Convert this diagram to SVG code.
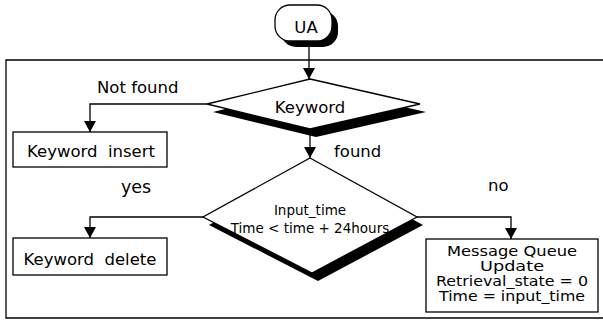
<svg xmlns="http://www.w3.org/2000/svg" width="603" height="320" viewBox="0 0 603 320">
<defs>
<style>
text{font-family:"DejaVu Sans","Liberation Sans",sans-serif;fill:#000}
.lbl{font-size:16.5px}
.box{fill:#fff;stroke:#000;stroke-width:1.3}
.sh{fill:#000}
.ln{fill:none;stroke:#000;stroke-width:1.3}
.c{text-anchor:middle}
.mq{font-size:14px}
</style>
<marker id="ah" markerUnits="userSpaceOnUse" markerWidth="11" markerHeight="12" refX="11" refY="6" orient="auto" viewBox="0 0 11 12">
<path d="M0,0 L11,6 L0,12 z" fill="#000"/>
</marker>
</defs>
<rect width="603" height="320" fill="#fff"/>
<path class="ln" d="M603,60 H6 V318 H603"/>
<g id="connectors">
<path class="ln" d="M309,41 V79" marker-end="url(#ah)"/>
<path class="ln" d="M207,104 H90 V132" marker-end="url(#ah)"/>
<path class="ln" d="M310,129 V158" marker-end="url(#ah)"/>
<path class="ln" d="M203,217 H90 V238" marker-end="url(#ah)"/>
<path class="ln" d="M417,217 H511 V239" marker-end="url(#ah)"/>
</g>
<g id="labels">
<text class="lbl" x="97" y="93">Not found</text>
<text class="lbl" x="334" y="157">found</text>
<text class="lbl" x="121" y="193" style="font-size:17.5px">yes</text>
<text class="lbl" x="488" y="191">no</text>
</g>
<g id="ua">
<rect class="sh" x="281" y="11" width="57" height="36" rx="15"/>
<rect class="box" x="275" y="5" width="57" height="36" rx="15"/>
<text class="lbl c" x="306" y="33">UA</text>
</g>
<g id="keyword">
<polygon class="sh" points="316,87 426,112 316,137 213,112"/>
<polygon class="box" points="310,79 420,104 310,129 207,104"/>
<text class="lbl c" x="310" y="113">Keyword</text>
</g>
<g id="keyword-insert">
<rect class="box" x="13" y="132" width="154" height="35"/>
<text class="lbl c" x="91" y="157" xml:space="preserve">Keyword  insert</text>
</g>
<g id="time-check">
<polygon class="sh" points="316,166 423,225 318,281 209,225"/>
<polygon class="box" points="310,158 417,217 312,273 203,217"/>
<text class="c" x="310" y="215" style="font-size:13.5px">Input_time</text>
<text class="c" x="310" y="233" style="font-size:13.5px">Time &lt; time + 24hours</text>
</g>
<g id="keyword-delete">
<rect class="box" x="13" y="238" width="154" height="37"/>
<text class="lbl c" x="90" y="265" xml:space="preserve">Keyword  delete</text>
</g>
<g id="message-queue">
<rect class="box" x="426" y="239" width="172" height="73"/>
<text class="c mq" x="512" y="256" textLength="130" lengthAdjust="spacingAndGlyphs">Message Queue</text>
<text class="c mq" x="512" y="271" textLength="64" lengthAdjust="spacingAndGlyphs">Update</text>
<text class="c mq" x="512" y="286" textLength="152" lengthAdjust="spacingAndGlyphs">Retrieval_state = 0</text>
<text class="c mq" x="512" y="301" textLength="146" lengthAdjust="spacingAndGlyphs">Time = input_time</text>
</g>
</svg>
